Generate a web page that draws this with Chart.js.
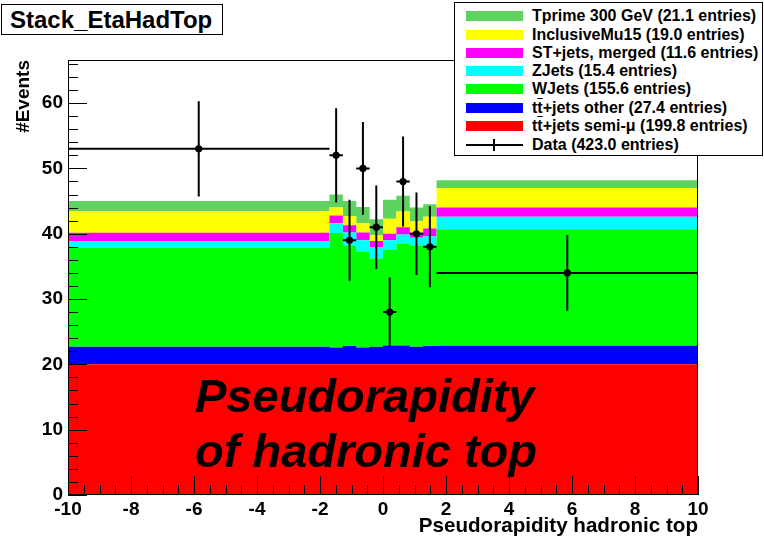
<!DOCTYPE html>
<html>
<head>
<meta charset="utf-8">
<script src="https://cdn.jsdelivr.net/npm/chart.js@4.4.0/dist/chart.umd.min.js"></script>
<style>
html,body{margin:0;padding:0;background:#fff;}
#wrap{position:relative;width:764px;height:542px;overflow:hidden;font-family:"Liberation Sans",Arial,Helvetica,sans-serif;color:#000;}
#c{position:absolute;left:0;top:0;}
#title{position:absolute;left:1px;top:4px;width:222px;height:31px;border:1px solid #000;background:#fff;box-sizing:border-box;font-weight:bold;font-size:24px;line-height:29px;padding-left:8px;white-space:nowrap;}
#legend{position:absolute;left:454px;top:2px;width:309px;height:154px;border:1px solid #000;background:#fff;box-sizing:border-box;}
.row{position:absolute;left:0;height:18px;width:100%;}
.sw{position:absolute;left:11px;top:4px;width:57px;height:10px;}
.lt{position:absolute;left:77px;top:0;font-weight:bold;font-size:16px;line-height:18px;white-space:nowrap;}
.ol{text-decoration:overline;}
#note{position:absolute;left:195px;top:368px;font-weight:bold;font-style:italic;font-size:47px;line-height:55px;white-space:nowrap;}
</style>
</head>
<body>
<div id="wrap">
<canvas id="c" width="764" height="542"></canvas>
<div id="title">Stack_EtaHadTop</div>
<div id="legend"></div>
<div id="note">Pseudorapidity<br>of hadronic top</div>
</div>
<script>
// ---- data ----
const binEdges = [-10, -1.7, -1.275, -0.85, -0.425, 0, 0.425, 0.85, 1.275, 1.7, 10];
const ttSemiMu  = [20.0, 20.0, 20.0, 20.0, 20.0, 20.0, 20.0, 20.0, 20.0, 20.0];
const ttOther   = [2.7, 2.6, 2.8, 2.6, 2.7, 2.9, 2.9, 2.7, 2.8, 2.85];
const wJets     = [15.2, 17.5, 15.4, 14.6, 13.5, 14.6, 15.6, 15.5, 15.4, 17.85];
const zJets     = [1.0, 1.5, 2.0, 1.8, 1.7, 1.5, 1.4, 1.2, 1.4, 1.9];
const stJets    = [1.25, 1.2, 1.1, 1.2, 1.0, 1.0, 1.1, 0.8, 1.2, 1.4];
const inclMu15  = [3.35, 1.2, 1.4, 1.4, 0.9, 2.3, 2.4, 1.7, 1.8, 3.0];
const tprime300 = [1.5, 2.0, 2.3, 2.5, 2.4, 2.9, 2.4, 2.1, 1.9, 1.2];
const dataCounts = [53, 52, 39, 50, 41, 28, 48, 40, 38, 34];
const dataErrors = [7.3, 7.2, 6.2, 7.1, 6.4, 5.3, 6.9, 6.3, 6.2, 5.8];

const stackLabels = ["tt\u0305+jets semi-\u03bc (199.8 entries)", "tt\u0305+jets other (27.4 entries)", "WJets (155.6 entries)", "ZJets (15.4 entries)", "ST+jets, merged (11.6 entries)", "InclusiveMu15 (19.0 entries)", "Tprime 300 GeV (21.1 entries)"];
const legendHtml = ["Tprime 300 GeV (21.1 entries)", "InclusiveMu15 (19.0 entries)", "ST+jets, merged (11.6 entries)", "ZJets (15.4 entries)", "WJets (155.6 entries)", "t<span class=\"ol\">t</span>+jets other (27.4 entries)", "t<span class=\"ol\">t</span>+jets semi-\u03bc (199.8 entries)", "Data (423.0 entries)"];
const stackValues = [ttSemiMu, ttOther, wJets, zJets, stJets, inclMu15, tprime300];
const stackColors = ["#ff0000", "#0000ff", "#00ff00", "#00ffff", "#ff00ff", "#ffff00", "#5fd35f"];

function toSteps(vals) {
  return binEdges.map((x, i) => ({x: x, y: vals[Math.min(i, vals.length - 1)]}));
}
const centers = dataCounts.map((v, i) => (binEdges[i] + binEdges[i + 1]) / 2);

const datasets = stackValues.map((vals, i) => ({
  label: stackLabels[i],
  data: toSteps(vals),
  stepped: 'before',
  fill: i === 0 ? 'origin' : '-1',
  backgroundColor: stackColors[i],
  borderColor: 'rgba(0,0,0,0)',
  borderWidth: 1,
  pointRadius: 0,
  pointHoverRadius: 0,
  stack: 'mc',
  order: 1
}));
datasets.push({
  type: 'scatter',
  label: 'Data (423.0 entries)',
  data: dataCounts.map((v, i) => ({x: centers[i], y: v})),
  showLine: false,
  pointRadius: 3.6,
  pointStyle: 'circle',
  backgroundColor: '#000',
  borderColor: '#000',
  borderWidth: 0,
  stack: 'data',
  order: 0
});

const rootAxes = {
  id: 'rootAxes',
  afterDatasetsDraw(chart) {
    const {ctx, chartArea: a, scales: {x, y}} = chart;
    ctx.save();
    // error bars
    ctx.strokeStyle = '#000';
    ctx.lineWidth = 2;
    dataCounts.forEach((v, i) => {
      const py = y.getPixelForValue(v);
      const px = x.getPixelForValue(centers[i]);
      ctx.beginPath();
      ctx.moveTo(x.getPixelForValue(binEdges[i]), py);
      ctx.lineTo(x.getPixelForValue(binEdges[i + 1]), py);
      ctx.moveTo(px, y.getPixelForValue(v + dataErrors[i]));
      ctx.lineTo(px, y.getPixelForValue(v - dataErrors[i]));
      ctx.stroke();
    });
    // ticks
    ctx.lineWidth = 1;
    ctx.beginPath();
    for (let k = 0; k <= 33; k++) {
      const v = k * 2;
      const py = Math.round(y.getPixelForValue(v)) + 0.5;
      const len = (v % 10 === 0) ? 19 : 10;
      ctx.moveTo(a.left, py); ctx.lineTo(a.left + len, py);
    }
    for (let k = 0; k <= 40; k++) {
      const v = -10 + k * 0.5;
      const px = Math.round(x.getPixelForValue(v)) + 0.5;
      const len = (k % 4 === 0) ? 19 : 10;
      ctx.moveTo(px, a.bottom); ctx.lineTo(px, a.bottom - len);
    }
    ctx.stroke();
    // frame
    ctx.strokeRect(Math.round(a.left) + 0.5, Math.round(a.top) + 0.5, Math.round(a.right - a.left) - 1, Math.round(a.bottom - a.top) - 1);
    ctx.restore();
  }
};

Chart.defaults.font.family = '"Liberation Sans", Arial, Helvetica, sans-serif';
Chart.defaults.color = '#000';

new Chart(document.getElementById('c').getContext('2d'), {
  type: 'line',
  data: {datasets: datasets},
  options: {
    responsive: false,
    animation: false,
    events: [],
    layout: {padding: {left: 0, top: 60, right: 66, bottom: 0}},
    plugins: {legend: {display: false}, tooltip: {enabled: false}},
    scales: {
      x: {
        type: 'linear', min: -10, max: 10,
        ticks: {stepSize: 2, font: {size: 19, weight: 'bold'}, color: '#000', padding: 3, maxRotation: 0, includeBounds: false},
        grid: {display: false, drawTicks: false},
        border: {display: false},
        title: {display: true, text: 'Pseudorapidity hadronic top', align: 'end', font: {size: 20.6, weight: 'bold'}, color: '#000', padding: {top: 0, bottom: 3}},
        afterFit(s) { s.height = 47; }
      },
      y: {
        type: 'linear', min: 0, max: 66.6, stacked: true,
        ticks: {stepSize: 10, font: {size: 19, weight: 'bold'}, color: '#000', padding: 5, includeBounds: false},
        grid: {display: false, drawTicks: false},
        border: {display: false},
        title: {display: true, text: '#Events', align: 'end', font: {size: 19, weight: 'bold'}, color: '#000', padding: {top: 12, bottom: 0}},
        afterFit(s) { s.width = 68; }
      }
    }
  },
  plugins: [rootAxes]
});

// legend (ROOT style box)
const leg = document.getElementById('legend');
const rowCenters = [15.3, 33.5, 51.5, 69.5, 88, 106.5, 125, 143.5];
const legColors = ["#5fd35f", "#ffff00", "#ff00ff", "#00ffff", "#00ff00", "#0000ff", "#ff0000", null];
legendHtml.forEach((t, i) => {
  const r = document.createElement('div');
  r.className = 'row';
  r.style.top = (rowCenters[i] - 2 - 9) + 'px';
  if (legColors[i]) {
    r.innerHTML = '<div class="sw" style="background:' + legColors[i] + '"></div><div class="lt">' + t + '</div>';
  } else {
    r.innerHTML = '<div style="position:absolute;left:11px;top:8px;width:57px;height:2px;background:#000"></div>' +
      '<div style="position:absolute;left:38px;top:3px;width:2px;height:12px;background:#000"></div><div class="lt">' + t + '</div>';
  }
  leg.appendChild(r);
});
</script>
</body>
</html>
